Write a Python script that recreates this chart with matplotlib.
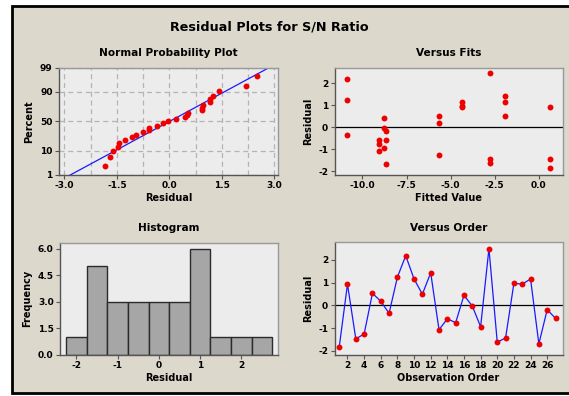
import numpy as np
import matplotlib
import matplotlib.pyplot as plt
from matplotlib.patches import Rectangle
from statistics import NormalDist

matplotlib.use('Agg')

# residuals in observation order (27 runs, 9 settings x 3 replicates)
residuals = [-1.85, 0.93, -1.47, -1.26, 0.53, 0.18, -0.35, 1.24, 2.18,
             1.16, 0.49, 1.43, -1.07, -0.59, -0.76, 0.44, -0.03, -0.94,
             2.49, -1.62, -1.43, 0.97, 0.93, 1.16, -1.69, -0.19, -0.57]
# fitted value of each setting, repeated for its three replicates
setting_fits = [0.64, -5.63, -10.89, -1.93, -9.06, -8.77, -2.76, -4.37, -8.68]
fitted = [f for f in setting_fits for _ in range(3)]
order = list(range(1, 28))

hist_edges = [-2.25, -1.75, -1.25, -0.75, -0.25, 0.25, 0.75, 1.25, 1.75, 2.25, 2.75]
pct_ticks = [1, 10, 50, 90, 99]

W, H = 569, 396
BG = '#dcd8cc'
PANEL = '#ececec'
FONT = 'DejaVu Sans'

plt.rcParams['font.family'] = FONT
plt.rcParams['font.weight'] = 'bold'
plt.rcParams['axes.labelweight'] = 'bold'
plt.rcParams['axes.titleweight'] = 'bold'
plt.rcParams['axes.unicode_minus'] = False

fig = plt.figure(figsize=(W / 100, H / 100), dpi=100, facecolor='white')

# beige frame, cut off on the right like the screenshot
fig.patches.append(Rectangle((12 / W, 3 / H), 1.0, (387 / H), transform=fig.transFigure,
                             facecolor=BG, edgecolor='black', linewidth=2, zorder=-10))

fig.text(269 / W, 1 - 27 / H, 'Residual Plots for S/N Ratio', ha='center', va='center',
         fontsize=9.2, fontweight='bold')


def box(l, t, r, b):
    return [l / W, 1 - b / H, (r - l) / W, (b - t) / H]


def style(ax):
    ax.set_facecolor(PANEL)
    for s in ax.spines.values():
        s.set_color('#555555')
        s.set_linewidth(1.0)
    ax.spines['top'].set_color('#999999')
    ax.spines['right'].set_color('#999999')
    ax.tick_params(labelsize=6.5, length=3, width=0.8, color='#555555', pad=1.5)
    for lab in ax.get_xticklabels() + ax.get_yticklabels():
        lab.set_fontweight('bold')


inv = NormalDist().inv_cdf
red = '#ee0000'
DOT = 18

# Normal probability plot
ax1 = fig.add_axes(box(59, 67.5, 278, 175))
r_sorted = np.sort(residuals)
n = len(r_sorted)
ranks = (np.arange(1, n + 1) - 0.3) / (n + 0.4)
ax1.scatter(r_sorted, [inv(p) for p in ranks], s=DOT, color=red, zorder=3, linewidths=0)
mu, sd = np.mean(residuals), np.std(residuals, ddof=1)
xl = np.array([-3.2, 3.2])
ax1.plot(xl, (xl - mu) / sd, color='#1a1aff', lw=0.9, zorder=2)
ax1.set_xlim(-3.15, 3.1)
ax1.set_ylim(inv(0.01), inv(0.99))
ax1.set_xticks([-3.0, -1.5, 0.0, 1.5, 3.0])
ax1.set_xticks([-2.25, -0.75, 0.75, 2.25], minor=True)
ax1.set_xticklabels(['-3.0', '-1.5', '0.0', '1.5', '3.0'])
ax1.set_yticks([inv(p / 100) for p in pct_ticks])
ax1.set_yticklabels([str(p) for p in pct_ticks])
ax1.tick_params(axis='x', which='minor', length=0)
ax1.grid(True, which='both', color='#b4b4b4', linestyle=(0, (4, 3)), linewidth=0.9)
ax1.set_axisbelow(True)
style(ax1)
ax1.set_title('Normal Probability Plot', fontsize=7.6, pad=8)
ax1.set_xlabel('Residual', fontsize=7, labelpad=2)
ax1.set_ylabel('Percent', fontsize=7, labelpad=4)

# Versus fits
ax2 = fig.add_axes(box(334.5, 67.5, 562.5, 175))
ax2.scatter(fitted, residuals, s=DOT, color=red, zorder=3, linewidths=0)
ax2.axhline(0, color='black', lw=0.9, zorder=2)
ax2.set_xlim(-11.59, 1.36)
ax2.set_ylim(-2.18, 2.72)
ax2.set_xticks([-10.0, -7.5, -5.0, -2.5, 0.0])
ax2.set_xticklabels(['-10.0', '-7.5', '-5.0', '-2.5', '0.0'])
ax2.set_yticks([-2, -1, 0, 1, 2])
style(ax2)
ax2.set_title('Versus Fits', fontsize=7.6, pad=8)
ax2.set_xlabel('Fitted Value', fontsize=7, labelpad=2)
ax2.set_ylabel('Residual', fontsize=7, labelpad=4)

# Histogram
ax3 = fig.add_axes(box(60, 242.5, 278, 354.5))
ax3.hist(residuals, bins=hist_edges, color='#a6a6a6', edgecolor='#2b2b2b', linewidth=1.0)
ax3.set_xlim(-2.40, 2.89)
ax3.set_ylim(0, 6.34)
ax3.set_xticks([-2, -1, 0, 1, 2])
ax3.set_yticks([0.0, 1.5, 3.0, 4.5, 6.0])
ax3.set_yticklabels(['0.0', '1.5', '3.0', '4.5', '6.0'])
style(ax3)
ax3.set_title('Histogram', fontsize=7.6, pad=8)
ax3.set_xlabel('Residual', fontsize=7, labelpad=2)
ax3.set_ylabel('Frequency', fontsize=7, labelpad=4)

# Versus order
ax4 = fig.add_axes(box(334.5, 242.5, 562.5, 355))
ax4.plot(order, residuals, color='#1a1aff', lw=0.9, zorder=2)
ax4.scatter(order, residuals, s=DOT, color=red, zorder=3, linewidths=0)
ax4.axhline(0, color='black', lw=0.9, zorder=1)
ax4.set_xlim(0.44, 27.84)
ax4.set_ylim(-2.18, 2.76)
ax4.set_xticks(list(range(2, 27, 2)))
ax4.set_yticks([-2, -1, 0, 1, 2])
style(ax4)
ax4.set_title('Versus Order', fontsize=7.6, pad=8)
ax4.set_xlabel('Observation Order', fontsize=7, labelpad=2)
ax4.set_ylabel('Residual', fontsize=7, labelpad=4)

plt.savefig('out.png', dpi=100, facecolor='white')
plt.close()
